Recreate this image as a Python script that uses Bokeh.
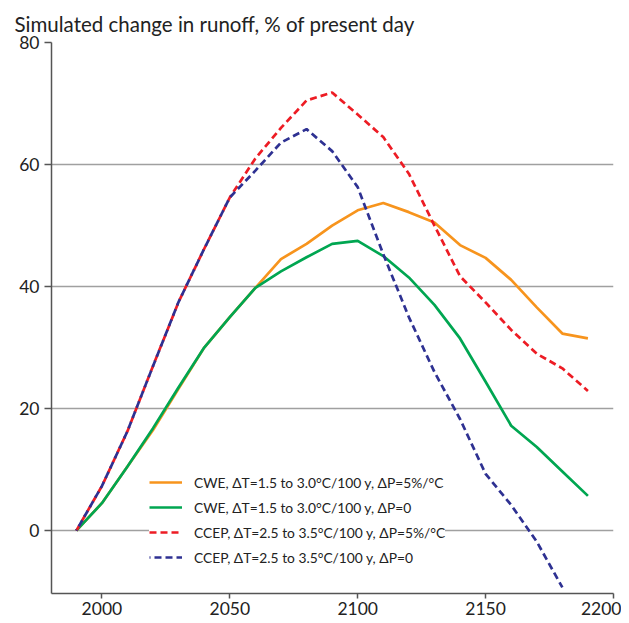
from bokeh.plotting import figure
from bokeh.models import Legend, LegendItem, FixedTicker
from bokeh.embed import file_html
from bokeh.resources import INLINE

years = [1990, 2000, 2010, 2020, 2030, 2040, 2050, 2060, 2070, 2080, 2090,
         2100, 2110, 2120, 2130, 2140, 2150, 2160, 2170, 2180, 2190]

cwe_dp5 = [0, 4.5, 10.5, 16.5, 23.3, 30, 35, 39.8, 44.5, 47, 50,
           52.5, 53.7, 52.2, 50.5, 46.8, 44.7, 41.1, 36.6, 32.3, 31.5]
cwe_dp0 = [0, 4.5, 10.5, 16.8, 23.5, 30, 35, 39.8, 42.5, 44.8, 47,
           47.5, 45, 41.5, 37, 31.5, 24.4, 17.2, 13.7, 9.7, 5.7]
ccep_dp5 = [0, 7.3, 16.3, 27, 37.5, 46.2, 54.6, 61, 66, 70.5, 71.8,
            68.2, 64.5, 58.5, 50, 41.7, 37.4, 32.9, 29, 26.6, 22.9]
ccep_years = years[:20]
ccep_dp0 = [0, 7.3, 16.3, 27, 37.5, 46.2, 54.6, 59, 63.6, 65.8, 62.2,
            56.3, 45.3, 35, 26, 18.3, 9.3, 4.2, -1.8, -9.3]

labels = ["CWE, \u0394T=1.5 to 3.0\u00b0C/100 y, \u0394P=5%/\u00b0C",
          "CWE, \u0394T=1.5 to 3.0\u00b0C/100 y, \u0394P=0",
          "CCEP, \u0394T=2.5 to 3.5\u00b0C/100 y, \u0394P=5%/\u00b0C",
          "CCEP, \u0394T=2.5 to 3.5\u00b0C/100 y, \u0394P=0"]
title_text = "Simulated change in runoff, % of present day"
x_ticks = [2000, 2050, 2100, 2150, 2200]
y_ticks = [0, 20, 40, 60, 80]

FONT = "Lato"

p = figure(width=621, height=623, output_backend="svg", toolbar_location=None,
           x_range=(1980.3, 2200), y_range=(-10.3, 80),
           min_border_left=51, min_border_right=8, min_border_top=42,
           min_border_bottom=30)
p.outline_line_color = None
p.background_fill_color = "white"

p.title.text = title_text
p.title.text_font = FONT
p.title.text_font_size = "20.5px"
p.title.text_font_style = "normal"
p.title.text_color = "#222222"
p.title.align = "left"
p.title.offset = -37
p.title.standoff = 10
p.title.vertical_align = "top"
p.title.text_line_height = 1.0

p.xgrid.grid_line_color = None
p.ygrid.grid_line_color = "#a0a0a0"
p.ygrid.grid_line_width = 1.5

for ax in (p.xaxis[0], p.yaxis[0]):
    ax.axis_line_color = "#555555"
    ax.axis_line_width = 1.5
    ax.major_tick_line_color = "#555555"
    ax.major_tick_line_width = 1.5
    ax.minor_tick_line_color = None
    ax.major_tick_in = 0
    ax.major_label_text_font = FONT
    ax.major_label_text_font_size = "17.5px"
    ax.major_label_text_color = "#222222"

p.xaxis.ticker = FixedTicker(ticks=x_ticks)
p.yaxis.ticker = FixedTicker(ticks=y_ticks)
p.xaxis.major_tick_out = 5
p.yaxis.major_tick_out = 7
p.xaxis.major_label_standoff = 3
p.yaxis.major_label_standoff = 5

r1 = p.line(years, cwe_dp5, line_color="#F7941D", line_width=2.7)
r2 = p.line(years, cwe_dp0, line_color="#00A651", line_width=2.7)
r3 = p.line(years, ccep_dp5, line_color="#ED1C24", line_width=2.7, line_dash="7 4")
r4 = p.line(ccep_years, ccep_dp0, line_color="#2E3192", line_width=2.7,
            line_dash="7 4", line_dash_offset=6)

legend = Legend(items=[LegendItem(label=labels[0], renderers=[r1]),
                       LegendItem(label=labels[1], renderers=[r2]),
                       LegendItem(label=labels[2], renderers=[r3]),
                       LegendItem(label=labels[3], renderers=[r4])],
                location=(98, 26))
legend.border_line_color = None
legend.background_fill_color = "white"
legend.background_fill_alpha = 1.0
legend.padding = 20
legend.spacing = 5
legend.glyph_width = 33
legend.glyph_height = 20
legend.label_height = 20
legend.label_standoff = 12
legend.label_text_font = FONT
legend.label_text_font_size = "13.8px"
legend.label_text_color = "#222222"
p.add_layout(legend, "center")

open("out.html", "w").write(file_html(p, INLINE))
